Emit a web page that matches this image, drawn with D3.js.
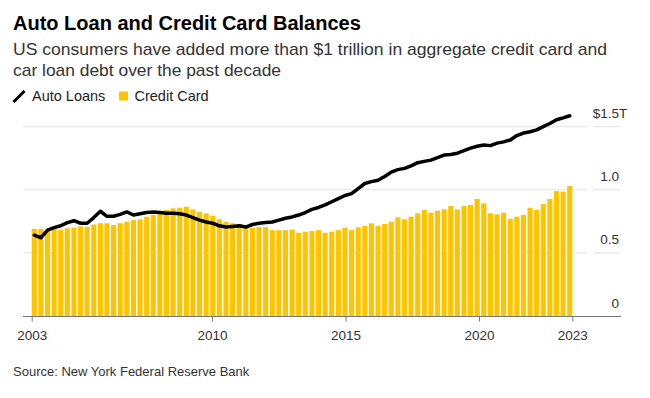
<!DOCTYPE html>
<html>
<head>
<meta charset="utf-8">
<script src="https://cdn.jsdelivr.net/npm/d3@7"></script>
<style>
  body { margin: 0; background: #fff; }
  svg { display: block; font-family: "Liberation Sans", Arial, sans-serif; }
</style>
</head>
<body>
<svg id="chart" width="650" height="398"></svg>
<script>
// quarterly, 2003 Q1 .. 2023 Q2, trillions of dollars
var quarters = []
for (var yr = 2003; yr <= 2023; yr++) {
  ['Q1', 'Q2', 'Q3', 'Q4'].forEach(function(q) { quarters.push(yr + ' ' + q) })
}
quarters = quarters.slice(0, 82)

var autoLoans = [
  0.64, 0.62, 0.68, 0.70, 0.715, 0.74, 0.755, 0.735,
  0.735, 0.78, 0.83, 0.79, 0.79, 0.805, 0.825, 0.80,
  0.81, 0.82, 0.825, 0.82, 0.815, 0.815, 0.81, 0.80,
  0.78, 0.76, 0.745, 0.735, 0.715, 0.705, 0.71, 0.715,
  0.705, 0.725, 0.735, 0.74, 0.745, 0.76, 0.775, 0.785,
  0.80, 0.82, 0.845, 0.86, 0.88, 0.905, 0.93, 0.955,
  0.97, 1.01, 1.05, 1.065, 1.075, 1.105, 1.14, 1.16,
  1.17, 1.19, 1.215, 1.225, 1.235, 1.255, 1.275, 1.28,
  1.29, 1.31, 1.33, 1.345, 1.355, 1.35, 1.37, 1.38,
  1.395, 1.43, 1.45, 1.46, 1.475, 1.50, 1.525, 1.555,
  1.57, 1.587
]
var creditCard = [
  0.69, 0.69, 0.68, 0.69, 0.685, 0.695, 0.70, 0.71,
  0.705, 0.725, 0.735, 0.735, 0.72, 0.735, 0.747, 0.76,
  0.766, 0.787, 0.80, 0.826, 0.84, 0.853, 0.858, 0.866,
  0.845, 0.826, 0.814, 0.795, 0.766, 0.747, 0.735, 0.73,
  0.70, 0.70, 0.705, 0.705, 0.68, 0.68, 0.68, 0.685,
  0.66, 0.668, 0.673, 0.68, 0.66, 0.668, 0.68, 0.70,
  0.68, 0.703, 0.713, 0.734, 0.713, 0.729, 0.747, 0.782,
  0.766, 0.787, 0.814, 0.84, 0.819, 0.835, 0.845, 0.872,
  0.845, 0.872, 0.88, 0.927, 0.893, 0.814, 0.806, 0.819,
  0.768, 0.787, 0.80, 0.858, 0.84, 0.887, 0.927, 0.99,
  0.986, 1.03
]
var xTickDates = ['2003-03-31', '2010-01-01', '2015-01-01', '2020-01-01', '2023-06-30']
var xTickLabels = ['2003', '2010', '2015', '2020', '2023']
var yTicks = [0, 0.5, 1.0, 1.5]
var yTickLabels = ['0', '0.5', '1.0', '$1.5']

var yellow = '#ffc400'
var svg = d3.select('#chart')

var parse = d3.timeParse('%Y-%m-%d')
var xTime = d3.scaleTime()
  .domain([parse(xTickDates[0]), parse(xTickDates[xTickDates.length - 1])])
  .range([31.7, 572.3])
var x = d3.scaleBand().domain(quarters).range([31.7, 572.3]).paddingInner(0.22).paddingOuter(0)
var y = d3.scaleLinear().domain([0, 1.5]).range([316, 126.7])

// titles
svg.append('text').attr('x', 13).attr('y', 30)
  .attr('font-size', 20).attr('font-weight', 'bold').attr('fill', '#000')
  .text('Auto Loan and Credit Card Balances')
svg.append('text').attr('x', 13).attr('y', 55)
  .attr('font-size', 17).attr('fill', '#333')
  .attr('textLength', 594).attr('lengthAdjust', 'spacingAndGlyphs')
  .text('US consumers have added more than $1 trillion in aggregate credit card and')
svg.append('text').attr('x', 13).attr('y', 76)
  .attr('font-size', 17).attr('fill', '#333')
  .attr('textLength', 268).attr('lengthAdjust', 'spacingAndGlyphs')
  .text('car loan debt over the past decade')

// legend
svg.append('line').attr('x1', 13.5).attr('y1', 102).attr('x2', 24.5).attr('y2', 91)
  .attr('stroke', '#000').attr('stroke-width', 3)
svg.append('text').attr('x', 32).attr('y', 101).attr('font-size', 14.5).attr('fill', '#222').text('Auto Loans')
svg.append('rect').attr('x', 119).attr('y', 91.5).attr('width', 9).attr('height', 9).attr('fill', yellow)
svg.append('text').attr('x', 134.5).attr('y', 101).attr('font-size', 14.5).attr('fill', '#222').text('Credit Card')

// grid
var grid = svg.append('g')
grid.selectAll('line.g1').data(yTicks.slice(1)).enter().append('line')
  .attr('x1', 23).attr('x2', 587)
  .attr('y1', function(d) { return y(d) }).attr('y2', function(d) { return y(d) })
  .attr('stroke', '#e3e3e3').attr('stroke-width', 1)
grid.selectAll('line.g2').data(yTicks.slice(1)).enter().append('line')
  .attr('x1', 594).attr('x2', 620)
  .attr('y1', function(d) { return y(d) }).attr('y2', function(d) { return y(d) })
  .attr('stroke', '#e3e3e3').attr('stroke-width', 1)

// y labels
svg.selectAll('text.ylab').data(yTicks).enter().append('text')
  .attr('class', 'ylab')
  .attr('x', 619).attr('y', function(d) { return y(d) - 8.5 })
  .attr('text-anchor', 'end').attr('font-size', 13.5).attr('fill', '#333')
  .text(function(d, i) { return yTickLabels[i] })
svg.append('text').attr('x', 619).attr('y', y(1.5) - 8.5)
  .attr('font-size', 13.5).attr('fill', '#333').text('T')

// bars
svg.append('g').selectAll('rect').data(creditCard).enter().append('rect')
  .attr('x', function(d, i) { return x(quarters[i]) })
  .attr('width', x.bandwidth())
  .attr('y', function(d) { return y(d) })
  .attr('height', function(d) { return y(0) - y(d) })
  .attr('fill', yellow)

// line
var line = d3.line()
  .x(function(d, i) { return x(quarters[i]) + x.bandwidth() / 2 })
  .y(function(d) { return y(d) })
svg.append('path').datum(autoLoans)
  .attr('d', line)
  .attr('fill', 'none').attr('stroke', '#000').attr('stroke-width', 3.5)
  .attr('stroke-linejoin', 'round').attr('stroke-linecap', 'round')

// x axis
svg.append('line').attr('x1', 23).attr('x2', 621).attr('y1', 316.5).attr('y2', 316.5)
  .attr('stroke', '#777').attr('stroke-width', 1)
var xAxis = d3.axisBottom(xTime)
  .tickValues(xTickDates.map(parse))
  .tickSize(5)
  .tickFormat(function(d, i) { return xTickLabels[i] })
var gx = svg.append('g').attr('transform', 'translate(0,316.5)').call(xAxis)
gx.select('.domain').remove()
gx.selectAll('.tick line').attr('stroke', '#777')
gx.selectAll('.tick text').attr('y', 23).attr('dy', null)
  .attr('font-family', '"Liberation Sans", Arial, sans-serif')
  .attr('font-size', 13.5).attr('fill', '#333')

// source
svg.append('text').attr('x', 13).attr('y', 376)
  .attr('font-size', 13).attr('fill', '#333')
  .text('Source: New York Federal Reserve Bank')
</script>
</body>
</html>
